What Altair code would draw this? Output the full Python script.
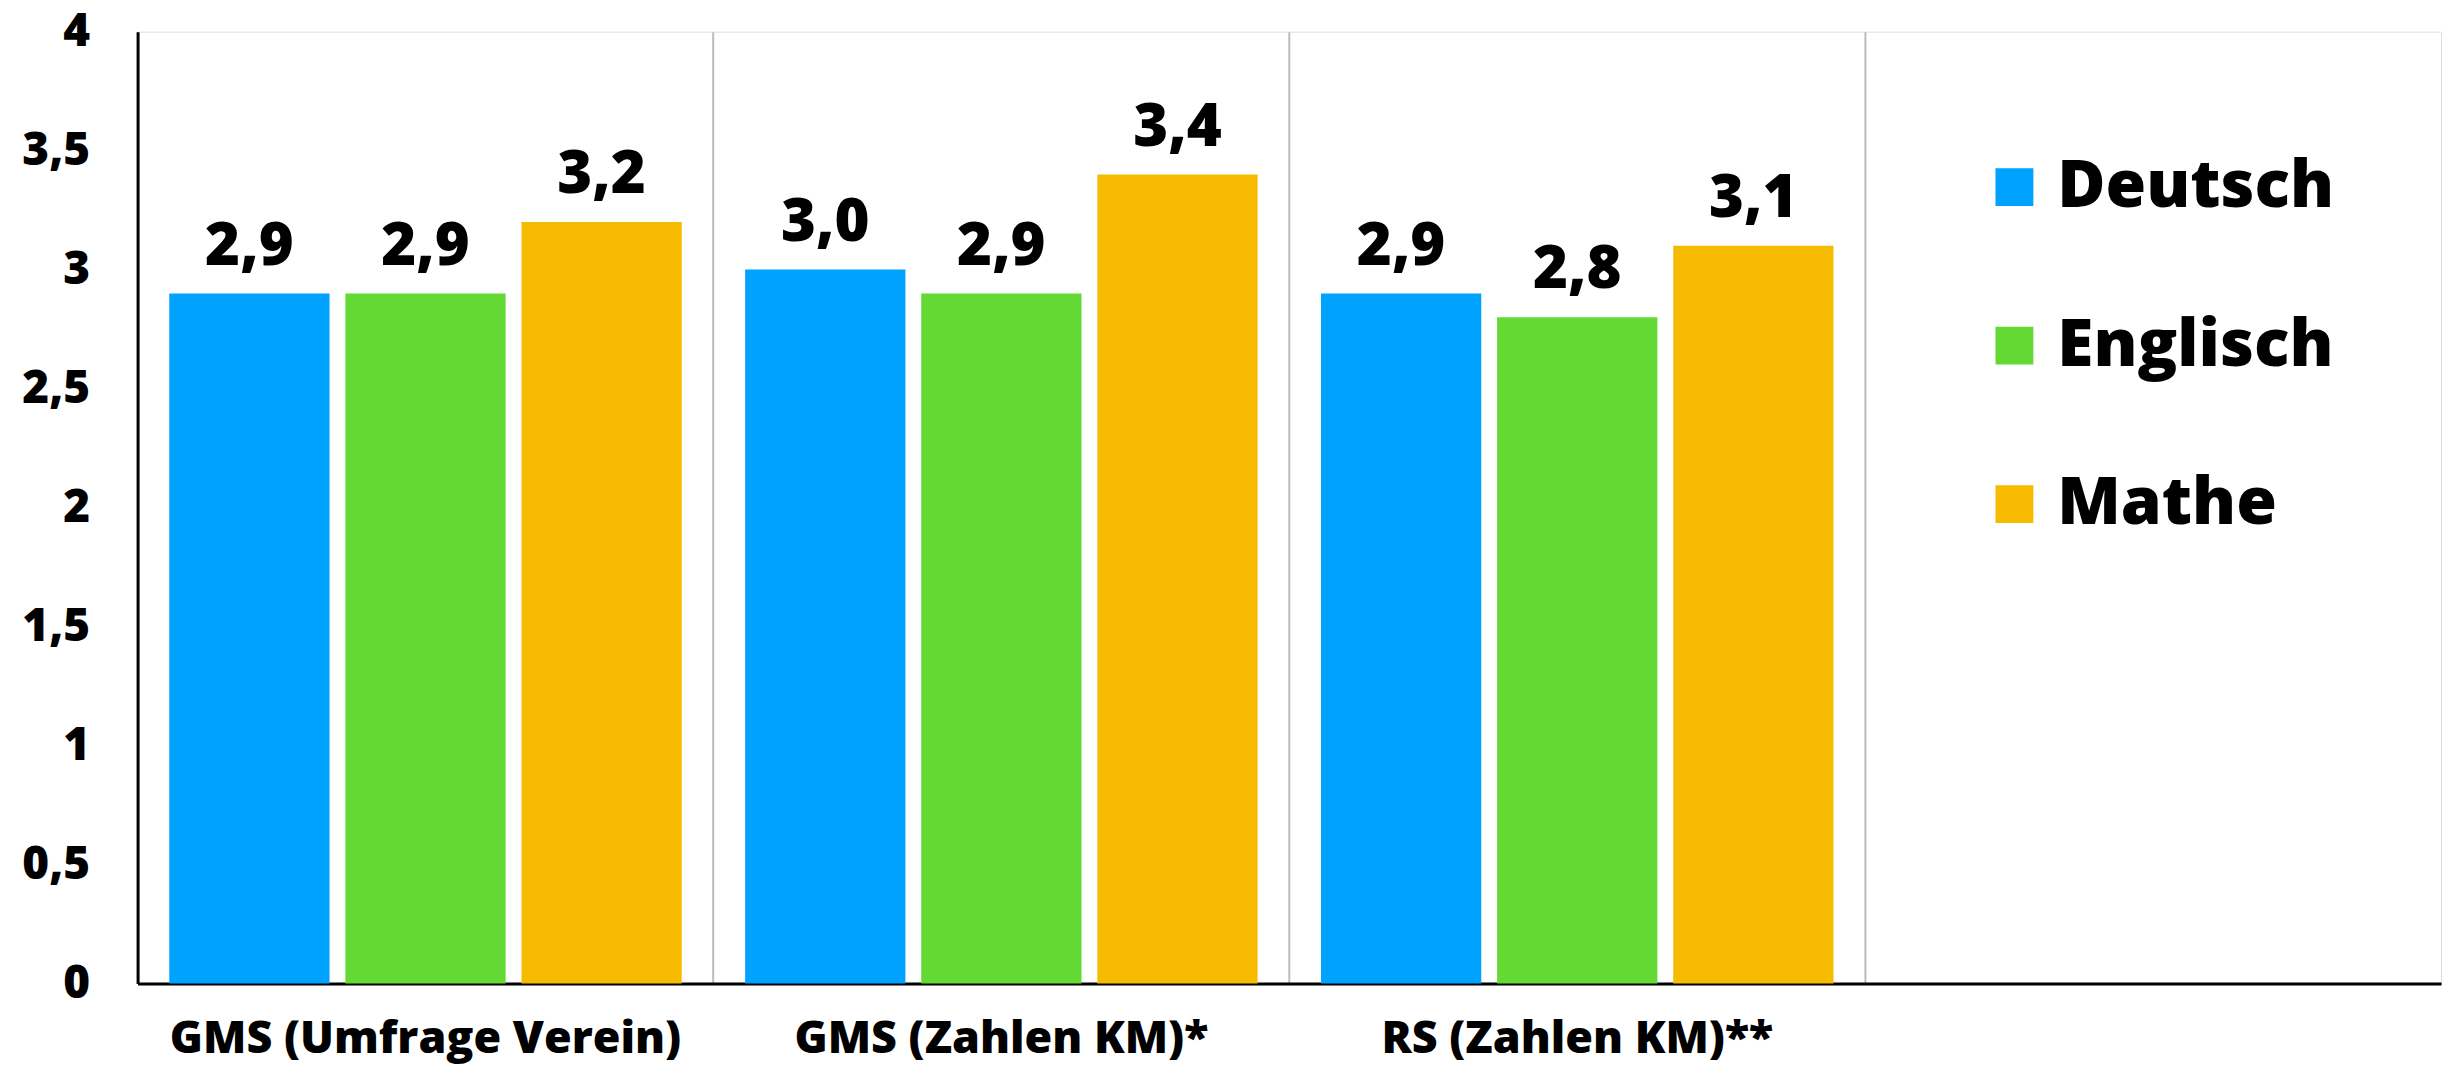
import altair as alt
import pandas as pd

categories = ["GMS (Umfrage Verein)", "GMS (Zahlen KM)*", "RS (Zahlen KM)**"]
x_domain = categories + ["-"]
subjects = ["Deutsch", "Englisch", "Mathe"]
deutsch = [2.9, 3.0, 2.9]
englisch = [2.9, 2.9, 2.8]
mathe = [3.2, 3.4, 3.1]
colors = ["#00A2FF", "#63D934", "#F6BB00"]
y_ticks = [0, 0.5, 1, 1.5, 2, 2.5, 3, 3.5, 4]

rows = []
for i, c in enumerate(categories):
    for s, vals in zip(subjects, [deutsch, englisch, mathe]):
        rows.append({"Kategorie": c, "Fach": s, "Wert": vals[i]})
df = pd.DataFrame(rows)

FONT = "Open Sans"

x_scale = alt.Scale(domain=x_domain, paddingInner=0, paddingOuter=0)
y_scale = alt.Scale(domain=[0, 4], nice=False)

x_enc = alt.X(
    "Kategorie:N",
    scale=x_scale,
    axis=alt.Axis(
        title=None,
        labelExpr="datum.value == '-' ? '' : datum.label",
        labelAngle=0,
        labelFont=FONT,
        labelFontWeight=800,
        labelFontSize=45,
        labelColor="black",
        labelPadding=33,
        labelLimit=0,
        ticks=False,
        grid=True,
        gridColor="#BBBBBB",
        gridWidth=2,
        bandPosition=0,
        domainColor="black",
        domainWidth=3,
    ),
)
xoff = alt.XOffset(
    "Fach:N",
    scale=alt.Scale(domain=subjects, paddingInner=0.09, paddingOuter=0.18),
)
y_enc = alt.Y(
    "Wert:Q",
    scale=y_scale,
    axis=alt.Axis(
        title=None,
        values=y_ticks,
        labelExpr="replace(format(datum.value, ''), '.', ',')",
        labelFont=FONT,
        labelFontWeight=800,
        labelFontSize=46,
        labelColor="black",
        labelPadding=48,
        ticks=False,
        grid=False,
        domainColor="black",
        domainWidth=3,
    ),
)

base = alt.Chart(df)

bars = base.mark_bar().encode(
    x=x_enc,
    xOffset=xoff,
    y=y_enc,
    color=alt.Color(
        "Fach:N",
        scale=alt.Scale(domain=subjects, range=colors),
        legend=alt.Legend(
            title=None,
            orient="none",
            legendX=1850,
            legendY=123,
            symbolType="square",
            symbolSize=1444,
            symbolStrokeWidth=0,
            labelFont=FONT,
            labelFontWeight=800,
            labelFontSize=66,
            labelColor="black",
            labelOffset=10,
            rowPadding=93,
            labelLimit=0,
        ),
    ),
)

labels = base.mark_text(
    baseline="alphabetic",
    dy=-29,
    font=FONT,
    fontWeight=800,
    fontSize=60,
    color="black",
).encode(
    x=alt.X("Kategorie:N", scale=x_scale),
    xOffset=xoff,
    y=alt.Y("Wert:Q", scale=y_scale),
    text=alt.Text("label:N"),
).transform_calculate(
    label="replace(format(datum.Wert, '.1f'), '.', ',')"
)

chart = (
    alt.layer(bars, labels)
    .properties(
        width=2311,
        height=955,
        autosize=alt.AutoSizeParams(type="none"),
        padding={"left": 130, "top": 22, "right": 10, "bottom": 80},
    )
    .configure_view(stroke="black", strokeWidth=3)
    .configure(background="white")
)

chart.save("out.html", embed_options={"renderer": "svg", "actions": False})
